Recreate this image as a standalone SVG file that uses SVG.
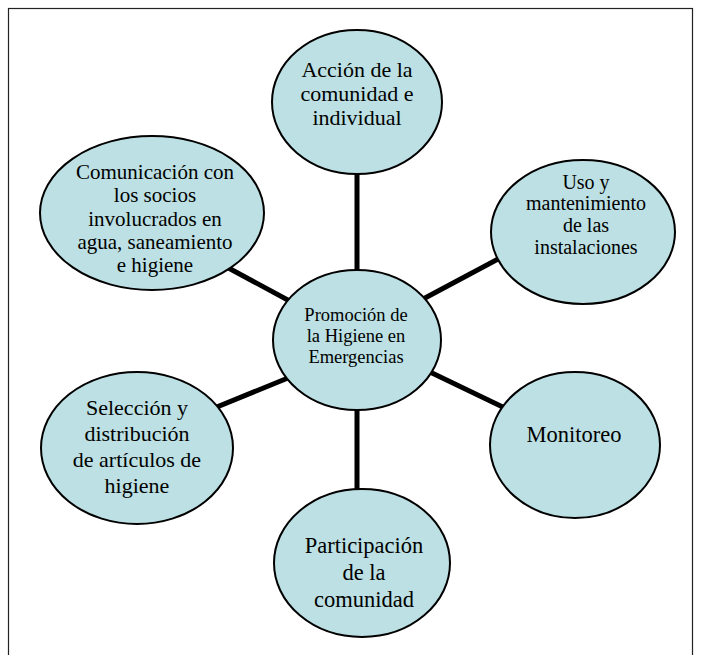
<svg xmlns="http://www.w3.org/2000/svg" width="702" height="655" viewBox="0 0 702 655">
<style>
.n{fill:#bce0e3;stroke:#000;stroke-width:2}
.t{fill:#000;text-anchor:middle}
.c{stroke:#000;stroke-width:5;fill:none}
</style>
<rect x="0" y="0" width="702" height="655" fill="#fff"/>
<rect x="8.5" y="8.5" width="684" height="660" fill="none" stroke="#222" stroke-width="1.2"/>
<g id="connectors">
<line class="c" x1="357" y1="150" x2="357" y2="300"/>
<line class="c" x1="357" y1="380" x2="357" y2="520"/>
<line class="c" x1="210" y1="258" x2="310" y2="312"/>
<line class="c" x1="530" y1="242" x2="410" y2="306"/>
<line class="c" x1="190" y1="418" x2="310" y2="369"/>
<line class="c" x1="530" y1="420" x2="405" y2="360"/>
</g>
<g font-family="Liberation Serif, Times New Roman, serif">
<g id="n-top">
<ellipse class="n" cx="357" cy="102" rx="85" ry="72"/>
<text class="t" font-size="22"><tspan x="357" y="77">Acción de la</tspan><tspan x="357" y="101">comunidad e</tspan><tspan x="357" y="125">individual</tspan></text>
</g>
<g id="n-comunicacion">
<ellipse class="n" cx="152" cy="213" rx="112" ry="77"/>
<text class="t" font-size="21"><tspan x="155" y="179">Comunicación con</tspan><tspan x="155" y="202">los socios</tspan><tspan x="155" y="226">involucrados en</tspan><tspan x="155" y="249">agua, saneamiento</tspan><tspan x="155" y="272">e higiene</tspan></text>
</g>
<g id="n-uso">
<ellipse class="n" cx="583" cy="232" rx="92" ry="72"/>
<text class="t" font-size="20"><tspan x="586" y="189">Uso y</tspan><tspan x="586" y="210">mantenimiento</tspan><tspan x="586" y="232">de las</tspan><tspan x="586" y="254">instalaciones</tspan></text>
</g>
<g id="n-centro">
<ellipse class="n" cx="357" cy="340" rx="84" ry="70"/>
<text class="t" font-size="18.5"><tspan x="356" y="321">Promoción de</tspan><tspan x="356" y="342">la Higiene en</tspan><tspan x="356" y="363">Emergencias</tspan></text>
</g>
<g id="n-seleccion">
<ellipse class="n" cx="137" cy="448" rx="96" ry="76"/>
<text class="t" font-size="22"><tspan x="137" y="415">Selección y</tspan><tspan x="137" y="441">distribución</tspan><tspan x="137" y="467">de artículos de</tspan><tspan x="137" y="493">higiene</tspan></text>
</g>
<g id="n-monitoreo">
<ellipse class="n" cx="575" cy="445" rx="85" ry="73"/>
<text class="t" font-size="22.5"><tspan x="574" y="442">Monitoreo</tspan></text>
</g>
<g id="n-participacion">
<ellipse class="n" cx="362" cy="563" rx="88" ry="74"/>
<text class="t" font-size="22.5"><tspan x="364" y="553">Participación</tspan><tspan x="364" y="580">de la</tspan><tspan x="364" y="607">comunidad</tspan></text>
</g>
</g>
</svg>
